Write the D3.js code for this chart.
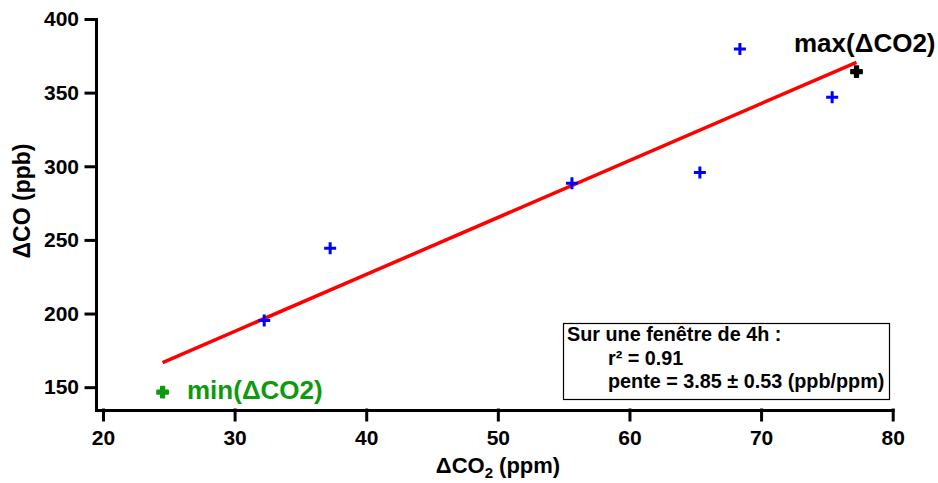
<!DOCTYPE html>
<html>
<head>
<meta charset="utf-8">
<script src="https://cdn.jsdelivr.net/npm/d3@7"></script>
<style>
    body { margin: 0; background: #fff; }
    svg { display: block; font-family: "Liberation Sans", Arial, sans-serif; font-weight: bold; }
</style>
</head>
<body>
<svg id="chart" width="938" height="483"></svg>
<script>
// points on the 4h window
var dco2 = [32.25, 37.26, 55.63, 65.35, 68.39, 75.4];
var dco = [195.2, 244.4, 288.5, 295.7, 379.6, 346.8];
// extremes
var maxPoint = [77.25, 364.2];
var minPoint = [24.53, 146.6];
// fitted line end points
var fitX = [24.53, 77.25];
var fitY = [166.7, 370.6];
var xTicks = [20, 30, 40, 50, 60, 70, 80];
var yTicks = [150, 200, 250, 300, 350, 400];
var boxLines = ["Sur une fenêtre de 4h :", "r² = 0.91", "pente = 3.85 ± 0.53 (ppb/ppm)"];

var svg = d3.select('#chart');
var x = d3.scaleLinear().domain([19.47, 80]).range([96, 892.7]);
var y = d3.scaleLinear().domain([134.5, 400]).range([410, 19]);

var xAxis = svg.append('g')
    .attr('transform', 'translate(0,410)')
    .call(d3.axisBottom(x).tickValues(xTicks).tickSize(10).tickSizeOuter(0).tickPadding(10));
var yAxis = svg.append('g')
    .attr('transform', 'translate(96,0)')
    .call(d3.axisLeft(y).tickValues(yTicks).tickSize(10).tickSizeOuter(0).tickPadding(7));

[xAxis, yAxis].forEach(function(a) {
    a.selectAll('path, line').attr('stroke', '#000').attr('stroke-width', 3).attr('stroke-linecap', 'square');
    a.selectAll('text').attr('font-size', 21).attr('font-family', '"Liberation Sans", Arial, sans-serif')
        .attr('font-weight', 'bold').attr('fill', '#000');
});

// axis titles
var xt = svg.append('text')
    .attr('x', 498).attr('y', 473)
    .attr('text-anchor', 'middle')
    .attr('font-size', 22);
xt.append('tspan').text('ΔCO');
xt.append('tspan').attr('font-size', 15).attr('dy', 5).text('2');
xt.append('tspan').attr('dy', -5).text(' (ppm)');

svg.append('text')
    .attr('transform', 'translate(30,201) rotate(-90)')
    .attr('text-anchor', 'middle')
    .attr('font-size', 23)
    .text('ΔCO (ppb)');

// fit line
svg.append('line')
    .attr('x1', x(fitX[0])).attr('y1', y(fitY[0]))
    .attr('x2', x(fitX[1])).attr('y2', y(fitY[1]))
    .attr('stroke', '#ff0000')
    .attr('stroke-width', 3.5);

// blue crosses
var pts = d3.zip(dco2, dco);
svg.selectAll('path.pt').data(pts).enter().append('path')
    .attr('class', 'pt')
    .attr('d', function(d) {
        var cx = x(d[0]), cy = y(d[1]);
        return 'M' + (cx - 6) + ',' + cy + 'H' + (cx + 6) + 'M' + cx + ',' + (cy - 6) + 'V' + (cy + 6);
    })
    .attr('stroke', '#0000ff')
    .attr('stroke-width', 3);

// extremes
var cross = d3.symbol().type(d3.symbolCross).size(70);
[[maxPoint, '#000'], [minPoint, '#0d9a0d']].forEach(function(p) {
    svg.append('path')
        .attr('d', cross)
        .attr('transform', 'translate(' + x(p[0][0]) + ',' + y(p[0][1]) + ')')
        .attr('fill', p[1])
        .attr('stroke', p[1])
        .attr('stroke-width', 1.5)
        .attr('stroke-linejoin', 'round');
});

svg.append('text')
    .attr('x', 794).attr('y', 52)
    .attr('font-size', 26)
    .attr('fill', '#000')
    .text('max(ΔCO2)');
svg.append('text')
    .attr('x', 187).attr('y', 399)
    .attr('font-size', 26)
    .attr('fill', '#0d9a0d')
    .text('min(ΔCO2)');

// stats box
svg.append('rect')
    .attr('x', 563.5).attr('y', 323.5)
    .attr('width', 326).attr('height', 76)
    .attr('fill', '#fff')
    .attr('stroke', '#000')
    .attr('stroke-width', 1.2);
svg.selectAll('text.box').data(boxLines).enter().append('text')
    .attr('class', 'box')
    .attr('x', function(d, i) { return i == 0 ? 567 : 608; })
    .attr('y', function(d, i) { return 341 + i * 23.5; })
    .attr('font-size', 19.8)
    .attr('fill', '#000')
    .text(String);
</script>
</body>
</html>
